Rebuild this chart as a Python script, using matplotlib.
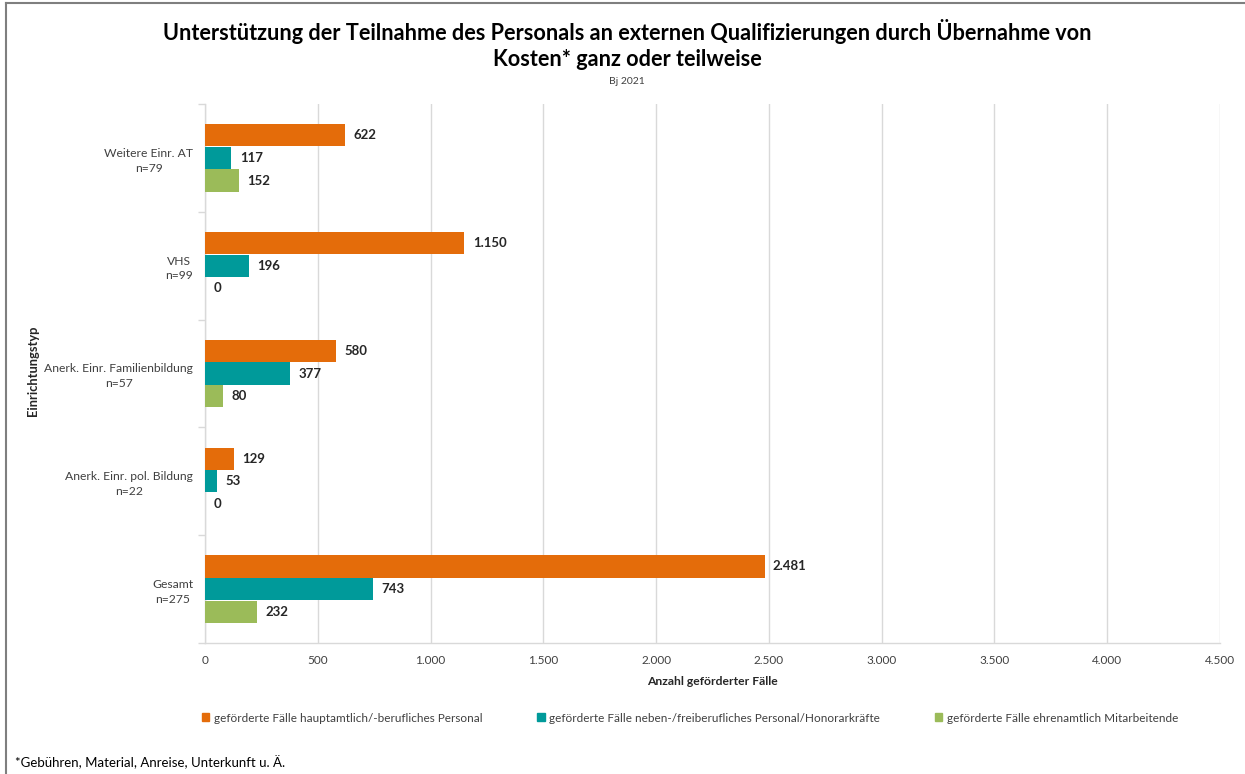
import matplotlib
matplotlib.use('Agg')
import matplotlib.pyplot as plt
import matplotlib.patches as mpatches
from matplotlib.lines import Line2D
import numpy as np

plt.rcParams['font.family'] = ['Lato', 'DejaVu Sans']

# data
categories = ['Weitere Einr. AT\nn=79', 'VHS\nn=99', 'Anerk. Einr. Familienbildung\nn=57',
              'Anerk. Einr. pol. Bildung\nn=22', 'Gesamt\nn=275']
series_names = ['geförderte Fälle hauptamtlich/-berufliches Personal',
                'geförderte Fälle neben-/freiberufliches Personal/Honorarkräfte',
                'geförderte Fälle ehrenamtlich Mitarbeitende']
hauptamtlich = [622, 1150, 580, 129, 2481]
nebenberuflich = [117, 196, 377, 53, 743]
ehrenamtlich = [152, 0, 80, 0, 232]
x_ticks = [0, 500, 1000, 1500, 2000, 2500, 3000, 3500, 4000, 4500]

C_ORANGE = '#E46C0A'
C_TEAL = '#009A9A'
C_GREEN = '#9BBB59'
C_GRID = '#D9D9D9'
C_TEXT = '#404040'


def de_num(v):
    return f"{v:,.0f}".replace(',', '.')


fig = plt.figure(figsize=(12.45, 7.74), dpi=100, facecolor='white')
ax = fig.add_axes([205 / 1245, 1 - 643 / 774, (1220 - 205) / 1245, (643 - 104) / 774])

y = np.arange(len(categories))
h = 0.205
off = 0.21
series = [hauptamtlich, nebenberuflich, ehrenamtlich]
colors = [C_ORANGE, C_TEAL, C_GREEN]
for k, (vals, col, name) in enumerate(zip(series, colors, series_names)):
    bars = ax.barh(y + (k - 1) * off, vals, height=h, color=col, label=name, zorder=3)
    ax.bar_label(bars, labels=[de_num(v) for v in vals], padding=6,
                 fontsize=9.5, fontweight='bold', color='#262626')

ax.set_xlim(0, 4500)
ax.set_ylim(len(categories) - 0.5, -0.5)
ax.set_xticks(x_ticks)
ax.set_xticklabels([de_num(v) for v in x_ticks], fontsize=8.5, color=C_TEXT)
ax.set_yticks(y)
ax.set_yticklabels(categories, fontsize=8.7, color=C_TEXT, multialignment='center',
                   linespacing=1.4)
ax.set_yticks(np.arange(-0.5, len(categories)), minor=True)
ax.tick_params(axis='y', which='major', length=0, pad=8.5)
ax.tick_params(axis='y', which='minor', length=5, color=C_GRID, width=1)
ax.tick_params(axis='x', length=0, pad=9)
ax.grid(axis='x', color=C_GRID, linewidth=1, zorder=0)
for s in ['top', 'right']:
    ax.spines[s].set_visible(False)
for s in ['left', 'bottom']:
    ax.spines[s].set_color(C_GRID)
    ax.spines[s].set_linewidth(1)

ax.set_xlabel('Anzahl geförderter Fälle', fontsize=8.7, fontweight='bold',
              color='#262626', labelpad=7)
ax.set_ylabel('Einrichtungstyp', fontsize=9.3, fontweight='bold', color='#262626')
ax.yaxis.set_label_coords(39 / 1245, 1 - 371 / 774, transform=fig.transFigure)

fig.text(627 / 1245, 1 - 32 / 774,
         'Unterstützung der Teilnahme des Personals an externen Qualifizierungen durch Übernahme von',
         ha='center', va='center', fontsize=15.6, fontweight='bold', color='#000000')
fig.text(627 / 1245, 1 - 60 / 774, 'Kosten* ganz oder teilweise',
         ha='center', va='center', fontsize=15.6, fontweight='bold', color='#000000')
fig.text(627 / 1245, 1 - 82 / 774, 'Bj 2021', ha='center', va='center',
         fontsize=7.5, color=C_TEXT)

handles = [mpatches.Patch(color=c, label=n) for c, n in zip(colors, series_names)]
fig.legend(handles=handles, loc='center left', bbox_to_anchor=(191 / 1245, 1 - 718 / 774),
           ncol=3, frameon=False, fontsize=8.5, labelcolor=C_TEXT,
           handlelength=0.65, handleheight=0.65, handletextpad=0.4, columnspacing=4.6)

fig.text(15 / 1245, 1 - 762 / 774, '*Gebühren, Material, Anreise, Unterkunft u. Ä.',
         ha='left', va='center', fontsize=9.5, color='#000000')

# chart frame (left and top edge)
fig.add_artist(Line2D([6 / 1245, 6 / 1245], [0, 1 - 3 / 774], transform=fig.transFigure,
                      color='#7F7F7F', linewidth=1.5))
fig.add_artist(Line2D([6 / 1245, 1], [1 - 3 / 774, 1 - 3 / 774], transform=fig.transFigure,
                      color='#7F7F7F', linewidth=1.5))

fig.savefig('out.png', dpi=100, facecolor='white')
